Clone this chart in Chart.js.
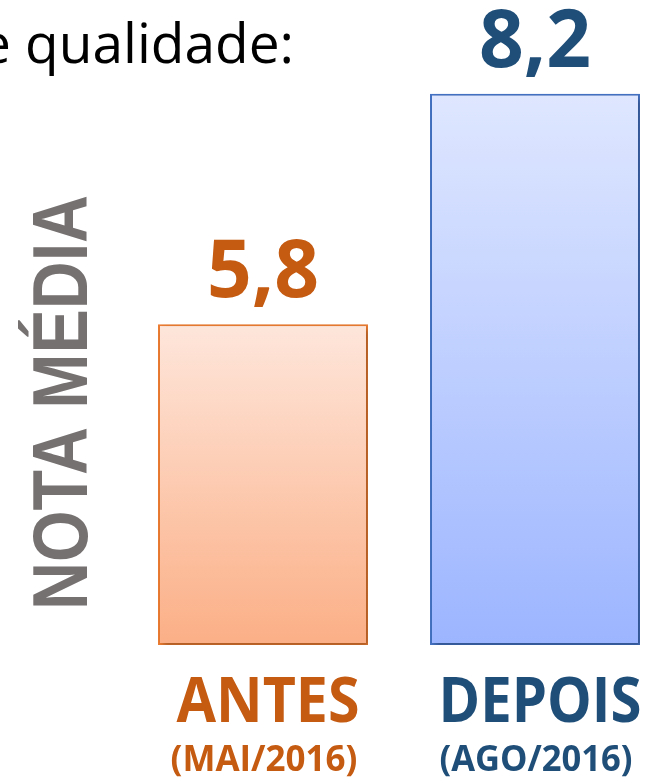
<!DOCTYPE html>
<html>
<head>
<meta charset="utf-8">
<script src="https://cdn.jsdelivr.net/npm/chart.js@4"></script>
<style>
  html, body { margin: 0; padding: 0; background: #ffffff; }
  #wrap { width: 648px; height: 779px; }
</style>
</head>
<body>
<div id="wrap"><canvas id="c" width="648" height="779"></canvas></div>
<script>
// ---- data ----
const categories = ['ANTES', 'DEPOIS'];
const periods = ['(MAI/2016)', '(AGO/2016)'];
const values = [5.8, 8.2];
const valueLabels = ['5,8', '8,2'];
const titleText = 'e qualidade:';
const yAxisTitle = 'NOTA MÉDIA';
const yMin = 2.46;
const yMax = 9;

// ---- styles ----
const labelColors = ['#C55A11', '#1F4E79'];
const borderColors = ['#ED7D31', '#4472C4'];
const gradTop = ['#FEE6DB', '#DFE7FF'];
const gradBottom = ['#FBAF86', '#9CB5FF'];

function barFill(ctx) {
  const chart = ctx.chart;
  const i = ctx.dataIndex;
  if (!chart.chartArea || i === undefined) return gradBottom[i || 0];
  const y = chart.scales.y;
  const top = y.getPixelForValue(values[i]);
  const bot = y.getPixelForValue(y.min);
  const g = chart.ctx.createLinearGradient(0, top, 0, bot);
  g.addColorStop(0, gradTop[i]);
  g.addColorStop(1, gradBottom[i]);
  return g;
}

const shadowPlugin = {
  id: 'shadow',
  beforeDatasetsDraw(chart) {
    const c = chart.ctx;
    c.save();
    c.shadowColor = 'rgba(0,0,0,0.30)';
    c.shadowBlur = 6;
    c.shadowOffsetX = 3;
    c.shadowOffsetY = 3;
  },
  afterDatasetsDraw(chart) {
    chart.ctx.restore();
  }
};

const textPlugin = {
  id: 'texts',
  afterDraw(chart) {
    const c = chart.ctx;
    const x = chart.scales.x, y = chart.scales.y;
    c.save();
    // partial title at top-left
    c.fillStyle = '#000000';
    c.font = '55px "Open Sans"';
    c.textAlign = 'right';
    c.textBaseline = 'alphabetic';
    c.fillText(titleText, 294, 63);

    // value labels
    c.textAlign = 'center';
    const base = y.getPixelForValue(y.min);
    for (let i = 0; i < values.length; i++) {
      const px = x.getPixelForValue(i);
      const py = y.getPixelForValue(values[i]);
      c.fillStyle = labelColors[i];
      c.font = 'bold 80px "Open Sans"';
      c.fillText(valueLabels[i], px, py - 27, 112);
      // category labels
      c.font = 'bold 63px "Open Sans"';
      c.fillText(categories[i], px + 5, base + 77, i === 0 ? 183 : 203);
      c.font = 'bold 35px "Open Sans"';
      c.fillText(periods[i], px + 1, base + 126, i === 0 ? 189 : 193);
    }

    // y axis title
    c.translate(87, 402.5);
    c.rotate(-Math.PI / 2);
    c.fillStyle = '#767171';
    c.font = 'bold 77px "Liberation Sans"';
    c.textAlign = 'center';
    c.fillText(yAxisTitle, 0, 0, 415);
    c.restore();
  }
};

new Chart(document.getElementById('c'), {
  type: 'bar',
  data: {
    labels: categories,
    datasets: [{
      data: values,
      base: yMin,
      backgroundColor: barFill,
      borderColor: borderColors,
      borderWidth: 2,
      borderSkipped: false,
      barPercentage: 0.772,
      categoryPercentage: 1,
      clip: false
    }]
  },
  options: {
    responsive: false,
    animation: false,
    devicePixelRatio: 1,
    layout: { padding: { left: 263, right: 113, top: 17, bottom: 134 } },
    scales: {
      x: { display: false, offset: false },
      y: { display: false, min: yMin, max: yMax }
    },
    plugins: { legend: { display: false }, tooltip: { enabled: false } }
  },
  plugins: [shadowPlugin, textPlugin]
});
</script>
</body>
</html>
